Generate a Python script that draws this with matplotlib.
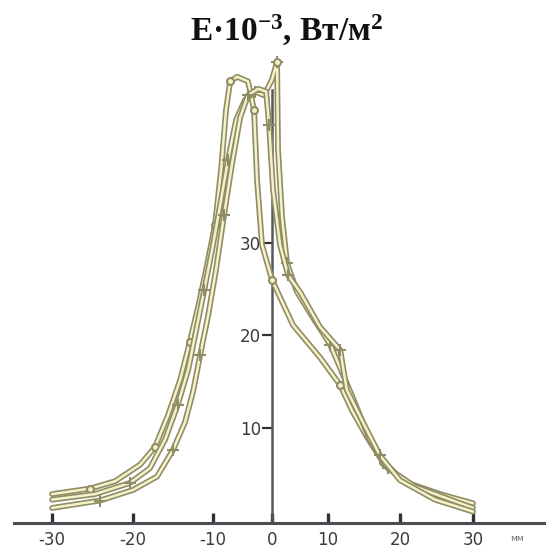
import numpy as np
import matplotlib
matplotlib.use("Agg")
import matplotlib.pyplot as plt

# irradiance profiles across the beam, x in mm, E in 10^3 W/m^2
x_a = [-30, -25.3, -22.2, -19.1, -17.25, -15.6, -14.1, -12.9, -11.75, -10.75,
       -9.66, -8.64, -7.8, -7.1, -5.9, -4.07, -3.05, -2.54, -1.7, 0,
       3.75, 8.57, 11.7, 13.3, 15.4, 17.6, 20.7, 25.5, 30]
e_a = [2.8, 3.4, 4.2, 6.0, 7.9, 11.4, 15.2, 19.3, 23.5, 27.6,
       32.0, 37.9, 44.4, 47.5, 48.0, 47.5, 44.4, 36.8, 29.8, 26.0,
       21.1, 17.6, 14.6, 11.9, 9.0, 6.3, 4.1, 2.8, 1.8]

x_b = [-30, -24.1, -20, -17.0, -15.0, -13.5, -12.5, -11.6, -10.6, -9.5,
       -8.14, -6.8, -5.4, -4.07, -2.37, -1.0, -0.5, 0.18, 1.43, 2.86,
       5.0, 8.57, 11.7, 12.6, 14.9, 17.2, 20, 24.8, 30]
e_b = [1.3, 2.1, 3.25, 4.7, 7.6, 10.6, 13.9, 17.9, 22.2, 27.1,
       33.0, 38.5, 43.6, 46.0, 46.7, 46.4, 42.8, 35.8, 29.8, 26.5,
       24.7, 20.9, 18.4, 14.1, 10.5, 7.0, 4.3, 2.2, 0.9]

x_c = [-30, -24.7, -20.4, -17.9, -16.0, -14.4, -13.1, -12.1, -11.1, -10.1,
       -8.8, -7.46, -6.1, -4.58, -2.9, -1.36, 0, 0.9, 1.07, 1.79,
       2.68, 4.46, 7.32, 10.3, 13.3, 15.8, 18.3, 22.1, 30]
e_c = [2.2, 2.8, 4.0, 5.6, 8.7, 12.5, 16.3, 20.6, 24.9, 29.3,
       34.1, 39.0, 43.3, 45.5, 46.4, 46.0, 47.7, 49.6, 40.1, 32.8,
       27.8, 24.7, 21.9, 19.0, 13.5, 8.7, 5.6, 3.6, 1.3]

x_ticks = [-30, -20, -10, 0, 10, 20, 30]
y_ticks = [10, 20, 30]

# the printed mm scale is uneven, so the x axis uses a piecewise scale
knots_mm = np.array([-40, -30, -20, -10, 0, 10, 20, 30, 40], dtype=float)
knots_u = np.array([-29, 52, 133, 213, 272, 328, 400, 473, 546], dtype=float)


def fwd(v):
    return np.interp(v, knots_mm, knots_u)


def inv(v):
    return np.interp(v, knots_u, knots_mm)


edge = "#8f8d66"
fill = "#f5f1c8"
ink = "#383b40"

fig = plt.figure(figsize=(5.46, 5.48), dpi=100)
ax = fig.add_axes([14 / 546, 25 / 548, 532 / 546, 473 / 548])
ax.set_xscale("function", functions=(fwd, inv))
ax.set_xlim(-34.7, 40)
ax.set_ylim(-0.33, 50.9)

curves = [(x_a, e_a, "o", 1, 5), (x_c, e_c, "+", 2, 8), (x_b, e_b, "+", 1, 8)]
for i, (xs, es, mk, start, size) in enumerate(curves):
    z = 3 + i
    ax.plot(xs, es, color=edge, lw=4.2, solid_capstyle="round",
            solid_joinstyle="round", zorder=z)
    ax.plot(xs, es, color=fill, lw=1.8, solid_capstyle="round",
            solid_joinstyle="round", zorder=z + 0.1)
    ax.plot(xs[start:-1:3], es[start:-1:3], ls="none", marker=mk, ms=size,
            mfc=fill, mec=edge, mew=1.5, zorder=z + 0.2)

# small ring on top of the narrow spike
ax.plot(x_c[17], e_c[17], ls="none", marker="o", ms=5, mfc=fill, mec=edge,
        mew=1.4, zorder=6)

for s in ["top", "right"]:
    ax.spines[s].set_visible(False)
ax.spines["left"].set_position(("data", 0))
ax.spines["left"].set_bounds(-0.33, 46.6)
ax.spines["left"].set_color("#55585c")
ax.spines["left"].set_linewidth(1.8)
ax.spines["left"].set_zorder(2)
ax.spines["bottom"].set_color("#4a4d51")
ax.spines["bottom"].set_linewidth(2.2)

ax.set_xticks(x_ticks)
ax.set_xticklabels([str(t) for t in x_ticks])
ax.set_yticks(y_ticks)
ax.set_yticklabels([str(t) for t in y_ticks])
ax.tick_params(axis="x", direction="in", length=7, width=2.4, color="#303236",
               pad=6, labelsize=12, labelcolor=ink)
ax.tick_params(axis="y", direction="out", length=7, width=1.6, color="#303236",
               pad=1, labelsize=12, labelcolor=ink)
ax.minorticks_off()

fig.text(0.935, 0.013, "мм", fontsize=6.5, color="#6a6d72")

plt.rcParams["mathtext.default"] = "regular"
fig.text(0.525, 0.945, "E·10$^{-3}$, Вт/м$^2$", ha="center", va="center",
         fontsize=24, fontweight="bold", family="Liberation Serif", color="#111111")

fig.savefig("out.png", dpi=100)
plt.close(fig)
